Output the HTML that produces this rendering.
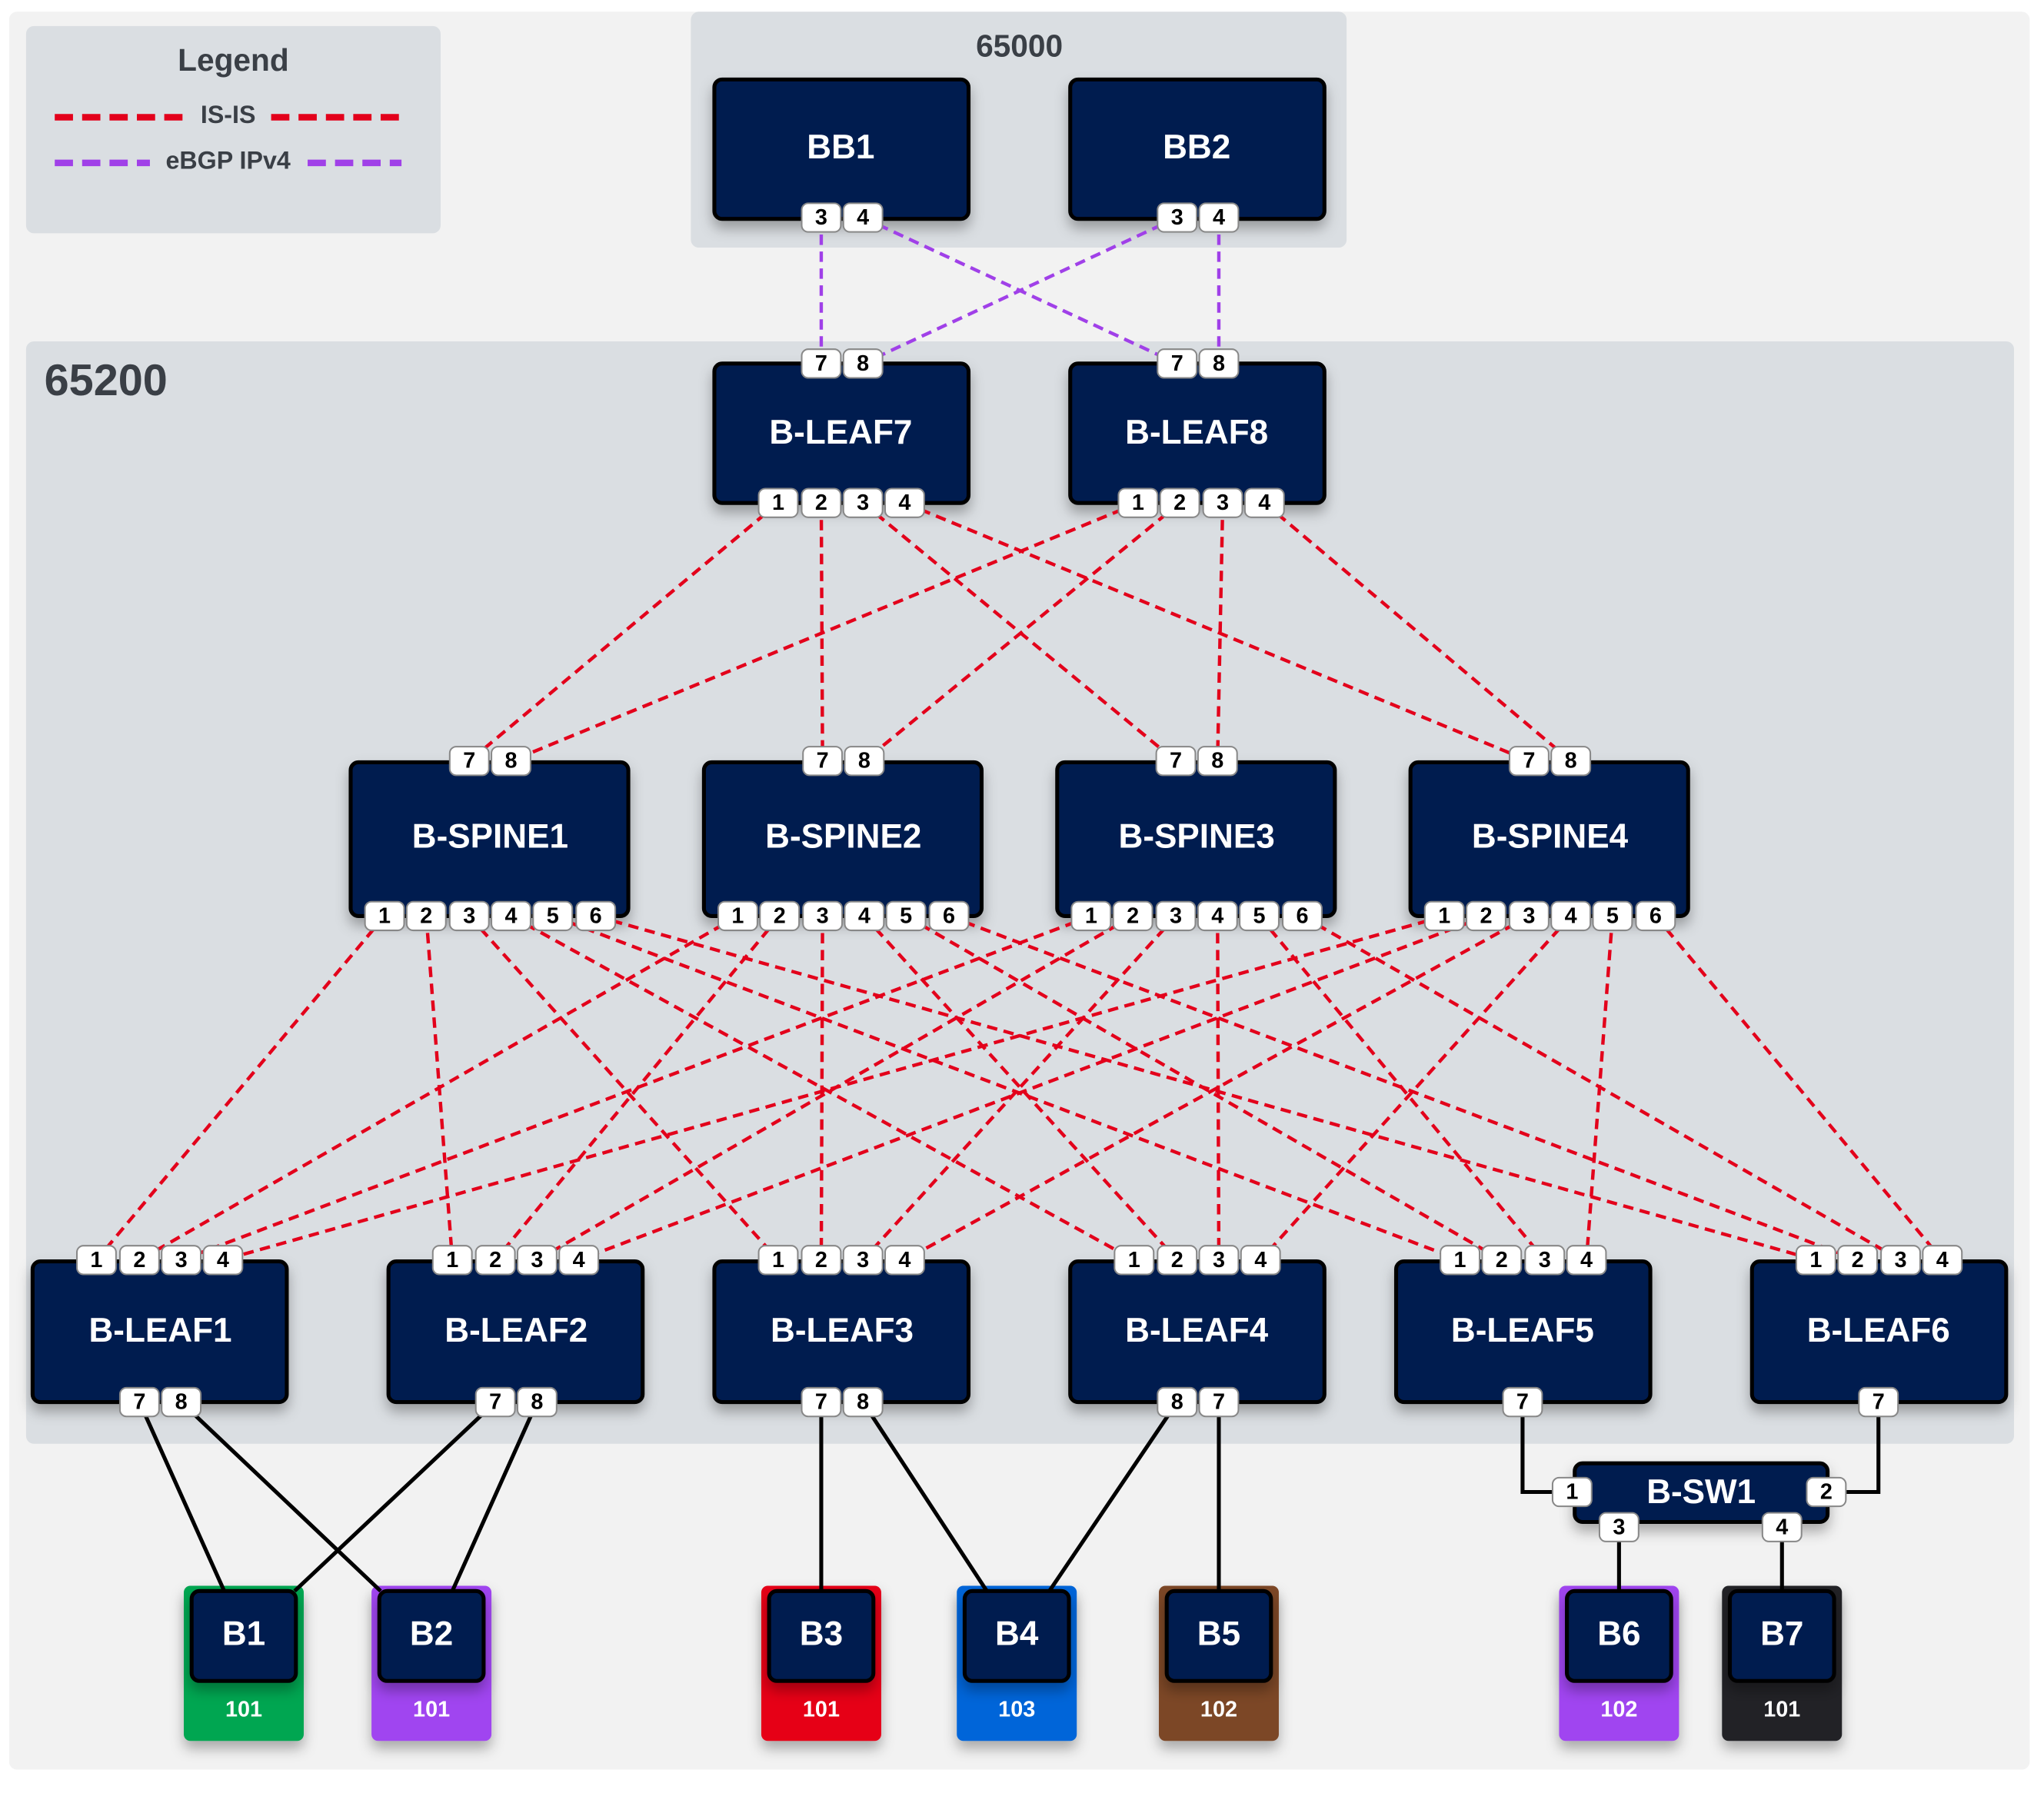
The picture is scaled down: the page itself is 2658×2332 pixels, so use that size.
<!DOCTYPE html>
<html><head><meta charset="utf-8"><style>
html,body{margin:0;padding:0;background:#fff;}
svg{display:block;}
text{font-family:"Liberation Sans",sans-serif;font-weight:bold;}
.n{fill:#001a4f;stroke:#000;stroke-width:3;}
.nt{fill:#fff;font-size:26px;text-anchor:middle;dominant-baseline:central;}
.p rect{fill:#fff;stroke:#888;stroke-width:1.2;}
.p text{fill:#000;font-size:17px;text-anchor:middle;dominant-baseline:central;}
.r{stroke:#e3001b;stroke-width:2.6;stroke-dasharray:8 5;fill:none;}
.pu{stroke:#a040e8;stroke-width:2.6;stroke-dasharray:8 5;fill:none;}
.b{stroke:#000;stroke-width:3;fill:none;}
.hl{fill:#fff;font-size:17px;text-anchor:middle;dominant-baseline:central;}
</style></head><body>
<svg width="2658" height="2332" viewBox="0 0 1568 1376" preserveAspectRatio="none" xmlns="http://www.w3.org/2000/svg">
<defs><filter id="sh" x="-20%" y="-20%" width="140%" height="160%"><feDropShadow dx="0" dy="6" stdDeviation="5" flood-color="#000" flood-opacity="0.3"/></filter></defs>
<rect x="7" y="9" width="1550" height="1349" rx="6" fill="#f2f2f2"/>
<!-- legend -->
<rect x="20" y="20" width="318" height="159" rx="6" fill="#dadee2"/>
<text x="179" y="46" font-size="24" fill="#3a3f46" text-anchor="middle" dominant-baseline="central">Legend</text>
<line x1="42" y1="90" x2="142" y2="90" stroke="#e3001b" stroke-width="5" stroke-dasharray="14 7"/>
<line x1="208" y1="90" x2="308" y2="90" stroke="#e3001b" stroke-width="5" stroke-dasharray="14 7"/>
<text x="175" y="88" font-size="19" fill="#3a3f46" text-anchor="middle" dominant-baseline="central">IS-IS</text>
<line x1="42" y1="125" x2="115" y2="125" stroke="#a040e8" stroke-width="5" stroke-dasharray="14 7"/>
<line x1="236" y1="125" x2="308" y2="125" stroke="#a040e8" stroke-width="5" stroke-dasharray="14 7"/>
<text x="175" y="123" font-size="19" fill="#3a3f46" text-anchor="middle" dominant-baseline="central">eBGP IPv4</text>
<!-- groups -->
<rect x="530" y="9" width="503" height="181" rx="6" fill="#dadee2"/>
<text x="782" y="35" font-size="24" fill="#3a3f46" text-anchor="middle" dominant-baseline="central">65000</text>
<rect x="20" y="262" width="1525" height="846" rx="6" fill="#dadee2"/>
<text x="34" y="292" font-size="34" fill="#3a3f46" dominant-baseline="central">65200</text>
<!-- nodes -->
<g filter="url(#sh)">
<rect class="n" x="548" y="61" width="195" height="107" rx="6"/>
<rect class="n" x="821" y="61" width="195" height="107" rx="6"/>
<rect class="n" x="548" y="279" width="195" height="107" rx="6"/>
<rect class="n" x="821" y="279" width="195" height="107" rx="6"/>
<rect class="n" x="269" y="585" width="213" height="118" rx="6"/>
<rect class="n" x="540" y="585" width="213" height="118" rx="6"/>
<rect class="n" x="811" y="585" width="213" height="118" rx="6"/>
<rect class="n" x="1082" y="585" width="213" height="118" rx="6"/>
<rect class="n" x="25" y="968" width="195" height="108" rx="6"/>
<rect class="n" x="298" y="968" width="195" height="108" rx="6"/>
<rect class="n" x="548" y="968" width="195" height="108" rx="6"/>
<rect class="n" x="821" y="968" width="195" height="108" rx="6"/>
<rect class="n" x="1071" y="968" width="195" height="108" rx="6"/>
<rect class="n" x="1344" y="968" width="195" height="108" rx="6"/>
<rect class="n" x="1208" y="1123" width="194" height="45" rx="6"/>
<rect x="141" y="1217" width="92" height="119" rx="5" fill="#00a651"/>
<rect x="285" y="1217" width="92" height="119" rx="5" fill="#a044f0"/>
<rect x="584" y="1217" width="92" height="119" rx="5" fill="#e60019"/>
<rect x="734" y="1217" width="92" height="119" rx="5" fill="#0065d9"/>
<rect x="889" y="1217" width="92" height="119" rx="5" fill="#7b4626"/>
<rect x="1196" y="1217" width="92" height="119" rx="5" fill="#a044f0"/>
<rect x="1321" y="1217" width="92" height="119" rx="5" fill="#212428"/>
</g>
<g filter="url(#sh)">
<rect class="n" x="147" y="1221" width="80" height="69" rx="6"/>
<rect class="n" x="291" y="1221" width="80" height="69" rx="6"/>
<rect class="n" x="590" y="1221" width="80" height="69" rx="6"/>
<rect class="n" x="740" y="1221" width="80" height="69" rx="6"/>
<rect class="n" x="895" y="1221" width="80" height="69" rx="6"/>
<rect class="n" x="1202" y="1221" width="80" height="69" rx="6"/>
<rect class="n" x="1327" y="1221" width="80" height="69" rx="6"/>
</g>
<g class="nt">
<text class="nt" x="645" y="113">BB1</text><text class="nt" x="918" y="113">BB2</text>
<text class="nt" x="645" y="332">B-LEAF7</text><text class="nt" x="918" y="332">B-LEAF8</text>
<text class="nt" x="376" y="642">B-SPINE1</text><text class="nt" x="647" y="642">B-SPINE2</text>
<text class="nt" x="918" y="642">B-SPINE3</text><text class="nt" x="1189" y="642">B-SPINE4</text>
<text class="nt" x="123" y="1021">B-LEAF1</text><text class="nt" x="396" y="1021">B-LEAF2</text>
<text class="nt" x="646" y="1021">B-LEAF3</text><text class="nt" x="918" y="1021">B-LEAF4</text>
<text class="nt" x="1168" y="1021">B-LEAF5</text><text class="nt" x="1441" y="1021">B-LEAF6</text>
<text class="nt" x="1305" y="1145">B-SW1</text>
<text class="nt" x="187" y="1254">B1</text><text class="nt" x="331" y="1254">B2</text>
<text class="nt" x="630" y="1254">B3</text><text class="nt" x="780" y="1254">B4</text>
<text class="nt" x="935" y="1254">B5</text><text class="nt" x="1242" y="1254">B6</text>
<text class="nt" x="1367" y="1254">B7</text>
</g>
<text class="hl" x="187" y="1312">101</text><text class="hl" x="331" y="1312">101</text>
<text class="hl" x="630" y="1312">101</text><text class="hl" x="780" y="1312">103</text>
<text class="hl" x="935" y="1312">102</text><text class="hl" x="1242" y="1312">102</text>
<text class="hl" x="1367" y="1312">101</text>
<!-- purple -->
<line class="pu" x1="630" y1="167" x2="630" y2="279"/>
<line class="pu" x1="662" y1="167" x2="903" y2="279"/>
<line class="pu" x1="903" y1="167" x2="662" y2="279"/>
<line class="pu" x1="935" y1="167" x2="935" y2="279"/>
<!-- red leaf7/8 to spines -->
<line class="r" x1="597" y1="386" x2="360" y2="584"/>
<line class="r" x1="630" y1="386" x2="631" y2="584"/>
<line class="r" x1="662" y1="386" x2="902" y2="584"/>
<line class="r" x1="694" y1="386" x2="1173" y2="584"/>
<line class="r" x1="873" y1="386" x2="392" y2="584"/>
<line class="r" x1="905" y1="386" x2="663" y2="584"/>
<line class="r" x1="938" y1="386" x2="934" y2="584"/>
<line class="r" x1="970" y1="386" x2="1205" y2="584"/>
<!-- spines to leaves -->
<line class="r" x1="295" y1="703" x2="74" y2="967"/>
<line class="r" x1="327" y1="703" x2="347" y2="967"/>
<line class="r" x1="360" y1="703" x2="597" y2="967"/>
<line class="r" x1="392" y1="703" x2="870" y2="967"/>
<line class="r" x1="424" y1="703" x2="1120" y2="967"/>
<line class="r" x1="457" y1="703" x2="1393" y2="967"/>
<line class="r" x1="566" y1="703" x2="107" y2="967"/>
<line class="r" x1="598" y1="703" x2="380" y2="967"/>
<line class="r" x1="631" y1="703" x2="630" y2="967"/>
<line class="r" x1="663" y1="703" x2="903" y2="967"/>
<line class="r" x1="695" y1="703" x2="1152" y2="967"/>
<line class="r" x1="728" y1="703" x2="1425" y2="967"/>
<line class="r" x1="837" y1="703" x2="139" y2="967"/>
<line class="r" x1="869" y1="703" x2="412" y2="967"/>
<line class="r" x1="902" y1="703" x2="662" y2="967"/>
<line class="r" x1="934" y1="703" x2="935" y2="967"/>
<line class="r" x1="966" y1="703" x2="1185" y2="967"/>
<line class="r" x1="999" y1="703" x2="1458" y2="967"/>
<line class="r" x1="1108" y1="703" x2="171" y2="967"/>
<line class="r" x1="1140" y1="703" x2="444" y2="967"/>
<line class="r" x1="1173" y1="703" x2="694" y2="967"/>
<line class="r" x1="1205" y1="703" x2="967" y2="967"/>
<line class="r" x1="1237" y1="703" x2="1217" y2="967"/>
<line class="r" x1="1270" y1="703" x2="1490" y2="967"/>
<!-- black -->
<line class="b" x1="107" y1="1076" x2="172" y2="1221"/>
<line class="b" x1="139" y1="1076" x2="292" y2="1221"/>
<line class="b" x1="380" y1="1076" x2="226" y2="1221"/>
<line class="b" x1="412" y1="1076" x2="347" y2="1221"/>
<line class="b" x1="630" y1="1076" x2="630" y2="1221"/>
<line class="b" x1="662" y1="1076" x2="757" y2="1221"/>
<line class="b" x1="903" y1="1076" x2="805" y2="1221"/>
<line class="b" x1="935" y1="1076" x2="935" y2="1221"/>
<polyline class="b" points="1168,1076 1168,1145 1206,1145"/>
<polyline class="b" points="1441,1076 1441,1145 1401,1145"/>
<line class="b" x1="1242" y1="1172" x2="1242" y2="1221"/>
<line class="b" x1="1367" y1="1172" x2="1367" y2="1221"/>
<!-- ports -->
<g class="p">
<rect x="615" y="156" width="30" height="22" rx="5"/><text x="630" y="167">3</text>
<rect x="647" y="156" width="30" height="22" rx="5"/><text x="662" y="167">4</text>
<rect x="888" y="156" width="30" height="22" rx="5"/><text x="903" y="167">3</text>
<rect x="920" y="156" width="30" height="22" rx="5"/><text x="935" y="167">4</text>
<rect x="615" y="268" width="30" height="22" rx="5"/><text x="630" y="279">7</text>
<rect x="647" y="268" width="30" height="22" rx="5"/><text x="662" y="279">8</text>
<rect x="888" y="268" width="30" height="22" rx="5"/><text x="903" y="279">7</text>
<rect x="920" y="268" width="30" height="22" rx="5"/><text x="935" y="279">8</text>
<rect x="582" y="375" width="30" height="22" rx="5"/><text x="597" y="386">1</text>
<rect x="615" y="375" width="30" height="22" rx="5"/><text x="630" y="386">2</text>
<rect x="647" y="375" width="30" height="22" rx="5"/><text x="662" y="386">3</text>
<rect x="679" y="375" width="30" height="22" rx="5"/><text x="694" y="386">4</text>
<rect x="858" y="375" width="30" height="22" rx="5"/><text x="873" y="386">1</text>
<rect x="890" y="375" width="30" height="22" rx="5"/><text x="905" y="386">2</text>
<rect x="923" y="375" width="30" height="22" rx="5"/><text x="938" y="386">3</text>
<rect x="955" y="375" width="30" height="22" rx="5"/><text x="970" y="386">4</text>
<!-- spine tops -->
<rect x="345" y="573" width="30" height="22" rx="5"/><text x="360" y="584">7</text>
<rect x="377" y="573" width="30" height="22" rx="5"/><text x="392" y="584">8</text>
<rect x="616" y="573" width="30" height="22" rx="5"/><text x="631" y="584">7</text>
<rect x="648" y="573" width="30" height="22" rx="5"/><text x="663" y="584">8</text>
<rect x="887" y="573" width="30" height="22" rx="5"/><text x="902" y="584">7</text>
<rect x="919" y="573" width="30" height="22" rx="5"/><text x="934" y="584">8</text>
<rect x="1158" y="573" width="30" height="22" rx="5"/><text x="1173" y="584">7</text>
<rect x="1190" y="573" width="30" height="22" rx="5"/><text x="1205" y="584">8</text>
<!-- spine bottoms -->
<rect x="280" y="692" width="30" height="22" rx="5"/><text x="295" y="703">1</text>
<rect x="312" y="692" width="30" height="22" rx="5"/><text x="327" y="703">2</text>
<rect x="345" y="692" width="30" height="22" rx="5"/><text x="360" y="703">3</text>
<rect x="377" y="692" width="30" height="22" rx="5"/><text x="392" y="703">4</text>
<rect x="409" y="692" width="30" height="22" rx="5"/><text x="424" y="703">5</text>
<rect x="442" y="692" width="30" height="22" rx="5"/><text x="457" y="703">6</text>
<rect x="551" y="692" width="30" height="22" rx="5"/><text x="566" y="703">1</text>
<rect x="583" y="692" width="30" height="22" rx="5"/><text x="598" y="703">2</text>
<rect x="616" y="692" width="30" height="22" rx="5"/><text x="631" y="703">3</text>
<rect x="648" y="692" width="30" height="22" rx="5"/><text x="663" y="703">4</text>
<rect x="680" y="692" width="30" height="22" rx="5"/><text x="695" y="703">5</text>
<rect x="713" y="692" width="30" height="22" rx="5"/><text x="728" y="703">6</text>
<rect x="822" y="692" width="30" height="22" rx="5"/><text x="837" y="703">1</text>
<rect x="854" y="692" width="30" height="22" rx="5"/><text x="869" y="703">2</text>
<rect x="887" y="692" width="30" height="22" rx="5"/><text x="902" y="703">3</text>
<rect x="919" y="692" width="30" height="22" rx="5"/><text x="934" y="703">4</text>
<rect x="951" y="692" width="30" height="22" rx="5"/><text x="966" y="703">5</text>
<rect x="984" y="692" width="30" height="22" rx="5"/><text x="999" y="703">6</text>
<rect x="1093" y="692" width="30" height="22" rx="5"/><text x="1108" y="703">1</text>
<rect x="1125" y="692" width="30" height="22" rx="5"/><text x="1140" y="703">2</text>
<rect x="1158" y="692" width="30" height="22" rx="5"/><text x="1173" y="703">3</text>
<rect x="1190" y="692" width="30" height="22" rx="5"/><text x="1205" y="703">4</text>
<rect x="1222" y="692" width="30" height="22" rx="5"/><text x="1237" y="703">5</text>
<rect x="1255" y="692" width="30" height="22" rx="5"/><text x="1270" y="703">6</text>
<!-- leaf tops -->
<rect x="59" y="956" width="30" height="22" rx="5"/><text x="74" y="967">1</text>
<rect x="92" y="956" width="30" height="22" rx="5"/><text x="107" y="967">2</text>
<rect x="124" y="956" width="30" height="22" rx="5"/><text x="139" y="967">3</text>
<rect x="156" y="956" width="30" height="22" rx="5"/><text x="171" y="967">4</text>
<rect x="332" y="956" width="30" height="22" rx="5"/><text x="347" y="967">1</text>
<rect x="365" y="956" width="30" height="22" rx="5"/><text x="380" y="967">2</text>
<rect x="397" y="956" width="30" height="22" rx="5"/><text x="412" y="967">3</text>
<rect x="429" y="956" width="30" height="22" rx="5"/><text x="444" y="967">4</text>
<rect x="582" y="956" width="30" height="22" rx="5"/><text x="597" y="967">1</text>
<rect x="615" y="956" width="30" height="22" rx="5"/><text x="630" y="967">2</text>
<rect x="647" y="956" width="30" height="22" rx="5"/><text x="662" y="967">3</text>
<rect x="679" y="956" width="30" height="22" rx="5"/><text x="694" y="967">4</text>
<rect x="855" y="956" width="30" height="22" rx="5"/><text x="870" y="967">1</text>
<rect x="888" y="956" width="30" height="22" rx="5"/><text x="903" y="967">2</text>
<rect x="920" y="956" width="30" height="22" rx="5"/><text x="935" y="967">3</text>
<rect x="952" y="956" width="30" height="22" rx="5"/><text x="967" y="967">4</text>
<rect x="1105" y="956" width="30" height="22" rx="5"/><text x="1120" y="967">1</text>
<rect x="1137" y="956" width="30" height="22" rx="5"/><text x="1152" y="967">2</text>
<rect x="1170" y="956" width="30" height="22" rx="5"/><text x="1185" y="967">3</text>
<rect x="1202" y="956" width="30" height="22" rx="5"/><text x="1217" y="967">4</text>
<rect x="1378" y="956" width="30" height="22" rx="5"/><text x="1393" y="967">1</text>
<rect x="1410" y="956" width="30" height="22" rx="5"/><text x="1425" y="967">2</text>
<rect x="1443" y="956" width="30" height="22" rx="5"/><text x="1458" y="967">3</text>
<rect x="1475" y="956" width="30" height="22" rx="5"/><text x="1490" y="967">4</text>
<!-- leaf bottoms -->
<rect x="92" y="1065" width="30" height="22" rx="5"/><text x="107" y="1076">7</text>
<rect x="124" y="1065" width="30" height="22" rx="5"/><text x="139" y="1076">8</text>
<rect x="365" y="1065" width="30" height="22" rx="5"/><text x="380" y="1076">7</text>
<rect x="397" y="1065" width="30" height="22" rx="5"/><text x="412" y="1076">8</text>
<rect x="615" y="1065" width="30" height="22" rx="5"/><text x="630" y="1076">7</text>
<rect x="647" y="1065" width="30" height="22" rx="5"/><text x="662" y="1076">8</text>
<rect x="888" y="1065" width="30" height="22" rx="5"/><text x="903" y="1076">8</text>
<rect x="920" y="1065" width="30" height="22" rx="5"/><text x="935" y="1076">7</text>
<rect x="1153" y="1065" width="30" height="22" rx="5"/><text x="1168" y="1076">7</text>
<rect x="1426" y="1065" width="30" height="22" rx="5"/><text x="1441" y="1076">7</text>
<!-- sw1 -->
<rect x="1191" y="1134" width="30" height="22" rx="5"/><text x="1206" y="1145">1</text>
<rect x="1386" y="1134" width="30" height="22" rx="5"/><text x="1401" y="1145">2</text>
<rect x="1227" y="1161" width="30" height="22" rx="5"/><text x="1242" y="1172">3</text>
<rect x="1352" y="1161" width="30" height="22" rx="5"/><text x="1367" y="1172">4</text>
</g>
</svg>
</body></html>
